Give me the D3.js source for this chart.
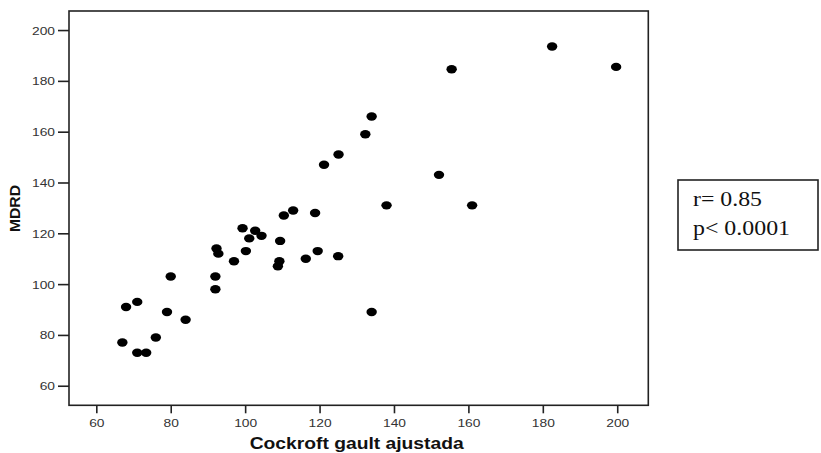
<!DOCTYPE html>
<html>
<head>
<meta charset="utf-8">
<script src="https://cdn.jsdelivr.net/npm/d3@7"></script>
<style>
    body{margin:0;background:#fff;}
    svg{display:block;}
</style>
</head>
<body>
<svg id="chart" width="821" height="453"></svg>
<script>
// Cockroft gault ajustada (x) vs MDRD (y)
var cgValues = [67, 71, 73.4, 76, 68, 71, 79, 84, 80,
                92, 92, 92.3, 92.8, 97, 99.3, 100.2, 101.1, 102.7, 104.4,
                109.4, 109.2, 108.8, 110.4, 112.9, 118.8, 116.3, 119.5, 125,
                134, 132.3, 125.1, 121.2, 152.1, 138, 161, 134,
                182.5, 199.7, 155.5];
var mdrdValues = [77, 73, 73, 79, 91, 93, 89, 86, 103,
                  103, 98, 114, 112, 109, 122, 113, 118, 121, 119,
                  117, 109, 107, 127, 129, 128, 110, 113, 111,
                  166, 159, 151, 147, 143, 131, 131, 89,
                  193.5, 185.5, 184.6];
var xTicks = [60, 80, 100, 120, 140, 160, 180, 200];
var yTicks = [60, 80, 100, 120, 140, 160, 180, 200];
var statsLines = ["r= 0.85", "p< 0.0001"];

var svg = d3.select("#chart"),
    plot = {left:69, top:11, right:648.3, bottom:405.3},
    stretch = 1.2;   // the source image is a bit wider than tall

var x = d3.scaleLinear().domain([52.66, 208.35]).range([plot.left, plot.right]);
var y = d3.scaleLinear().domain([52.3, 207.5]).range([plot.bottom, plot.top]);

function drawFrame(){
    svg.append("rect")
        .attr("x", plot.left)
        .attr("y", plot.top)
        .attr("width", plot.right-plot.left)
        .attr("height", plot.bottom-plot.top)
        .attr("fill", "none")
        .attr("stroke", "#222")
        .attr("stroke-width", 1.6);
};

function drawAxes(){
    var xAxis = svg.append("g")
        .attr("transform", "translate(0," + plot.bottom + ")")
        .call(d3.axisBottom(x).tickValues(xTicks).tickSize(8).tickPadding(6).tickSizeOuter(0));
    xAxis.select(".domain").remove();
    xAxis.selectAll("text")
        .attr("transform", "scale(" + stretch + ",1)");

    var yAxis = svg.append("g")
        .attr("transform", "translate(" + plot.left + ",0)")
        .call(d3.axisLeft(y).tickValues(yTicks).tickSize(11).tickPadding(3).tickSizeOuter(0));
    yAxis.select(".domain").remove();
    yAxis.selectAll("text")
        .attr("dy", "0.35em")
        .attr("transform", "scale(" + stretch + ",1)")
        .attr("x", -14/stretch);

    svg.selectAll(".tick line")
        .attr("stroke", "#222")
        .attr("stroke-width", 1.6);
    svg.selectAll(".tick text")
        .attr("fill", "#333")
        .style("font-family", "Arial, 'Liberation Sans', sans-serif")
        .style("font-size", "11.5px");
};

function drawLabels(){
    svg.append("text")
        .attr("x", (plot.left+plot.right)/2 - 2)
        .attr("y", 449)
        .attr("text-anchor", "middle")
        .attr("textLength", 214)
        .attr("lengthAdjust", "spacingAndGlyphs")
        .style("font-family", "Arial, 'Liberation Sans', sans-serif")
        .style("font-weight", "bold")
        .style("font-size", "16px")
        .attr("fill", "#111")
        .text("Cockroft gault ajustada");

    svg.append("text")
        .attr("transform", "translate(20," + 208.5 + ") rotate(-90)")
        .attr("text-anchor", "middle")
        .attr("textLength", 47)
        .attr("lengthAdjust", "spacingAndGlyphs")
        .style("font-family", "Arial, 'Liberation Sans', sans-serif")
        .style("font-weight", "bold")
        .style("font-size", "14px")
        .attr("fill", "#111")
        .text("MDRD");
};

function drawPoints(){
    var points = cgValues.map(function(d,i){ return {cg:d, mdrd:mdrdValues[i]}; });
    svg.append("g")
        .selectAll("ellipse")
        .data(points)
        .enter().append("ellipse")
        .attr("cx", function(d){ return x(d.cg); })
        .attr("cy", function(d){ return y(d.mdrd); })
        .attr("rx", 5.2)
        .attr("ry", 4.2)
        .attr("fill", "#000");
};

function drawStats(){
    var box = svg.append("g");
    box.append("rect")
        .attr("x", 678)
        .attr("y", 180)
        .attr("width", 140)
        .attr("height", 70)
        .attr("fill", "#fff")
        .attr("stroke", "#222")
        .attr("stroke-width", 1.6);
    var widths = [69, 97];
    box.selectAll("text")
        .data(statsLines)
        .enter().append("text")
        .attr("x", 693)
        .attr("y", function(d,i){ return 206 + i*29; })
        .attr("textLength", function(d,i){ return widths[i]; })
        .attr("lengthAdjust", "spacingAndGlyphs")
        .style("font-family", "'Times New Roman', 'Liberation Serif', serif")
        .style("font-size", "20px")
        .attr("fill", "#111")
        .text(function(d){ return d; });
};

drawFrame();
drawAxes();
drawLabels();
drawPoints();
drawStats();
</script>
</body>
</html>
